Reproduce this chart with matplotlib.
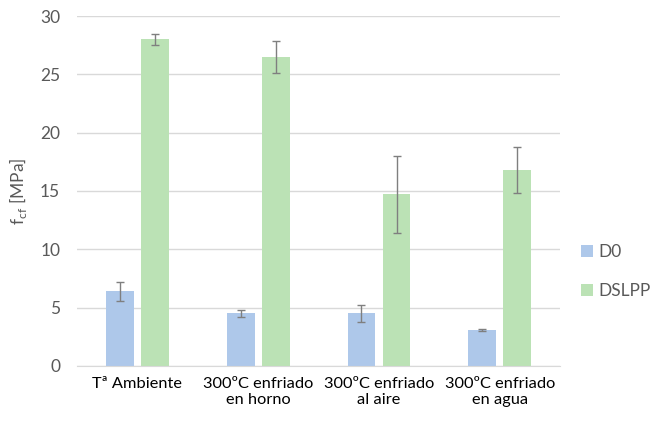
import numpy as np
import matplotlib.pyplot as plt

categories = ['Tª Ambiente', '300ºC enfriado\nen horno', '300ºC enfriado\nal aire', '300ºC enfriado\nen agua']
d0 = [6.4, 4.5, 4.5, 3.1]
d0_err = [0.8, 0.3, 0.7, 0.1]
dslpp = [28.0, 26.5, 14.7, 16.8]
dslpp_err = [0.5, 1.4, 3.3, 2.0]

plt.rcParams['font.family'] = ['Lato', 'DejaVu Sans']
txt = '#595959'

fig = plt.figure(figsize=(6.63, 4.23), dpi=100)
ax = fig.add_axes([0.116, 0.135, 0.729, 0.827])

x = np.arange(len(categories))
w = 0.23
off = 0.145
ax.bar(x - off, d0, w, color='#aec8ea', label='D0', zorder=2)
ax.bar(x + off, dslpp, w, color='#bbe2b5', label='DSLPP', zorder=2)
ax.errorbar(x - off, d0, yerr=d0_err, fmt='none', ecolor='#7f7f7f', elinewidth=1, capsize=3, zorder=3)
ax.errorbar(x + off, dslpp, yerr=dslpp_err, fmt='none', ecolor='#7f7f7f', elinewidth=1, capsize=3, zorder=3)

ax.set_xlim(-0.5, 3.5)
ax.set_ylim(0, 30)
ax.set_yticks(range(0, 31, 5))
ax.set_xticks(x)
ax.set_xticklabels(categories, fontsize=11.8, color='black')
ax.tick_params(axis='y', labelsize=12.5, colors=txt, length=0, pad=12)
ax.tick_params(axis='x', length=0, pad=8)
ax.grid(axis='y', color='#d9d9d9', linewidth=1, zorder=0)
for s in ['top', 'right', 'left']:
    ax.spines[s].set_visible(False)
ax.spines['bottom'].set_color('#d9d9d9')
ax.set_ylabel('f$_{\\mathregular{cf}}$ [MPa]', fontsize=12.5, color=txt, labelpad=8)

ax.legend(loc='center left', bbox_to_anchor=(1.01, 0.27), frameon=False, fontsize=12.5,
          handlelength=0.7, handleheight=0.7, handletextpad=0.3, labelspacing=1.3, labelcolor=txt)

fig.savefig('out.png', dpi=100)
